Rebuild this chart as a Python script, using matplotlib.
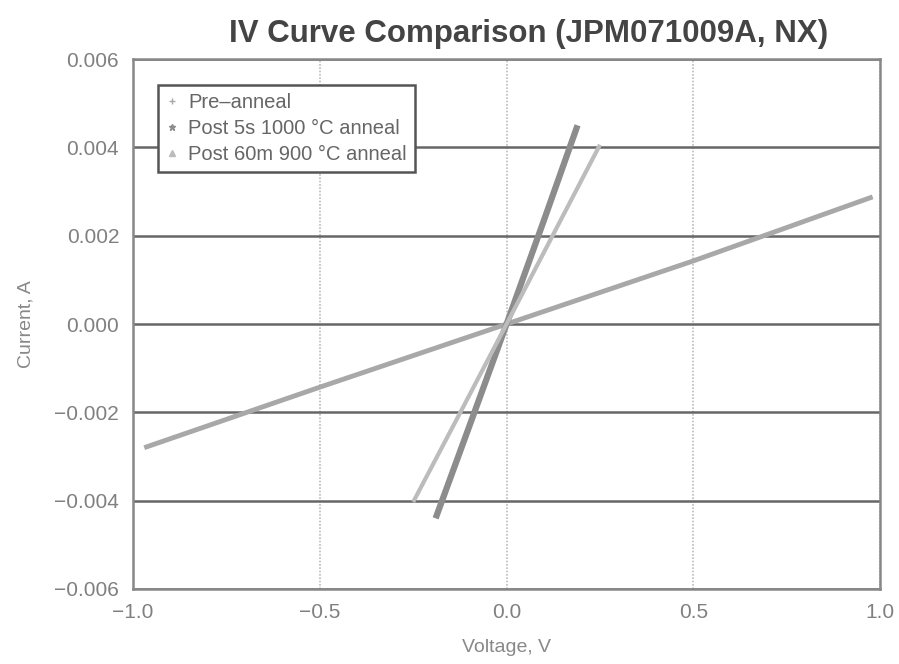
import matplotlib.pyplot as plt
from matplotlib.lines import Line2D

plt.rcParams['font.family'] = ['Liberation Sans', 'DejaVu Sans']

labels = ['Pre\u2013anneal', 'Post 5s 1000 \u00b0C anneal', 'Post 60m 900 \u00b0C anneal']
pre_v = [-0.97, -0.5, 0.0, 0.5, 0.98]
pre_i = [-0.00280, -0.00143, 0.0, 0.00143, 0.00288]
post5s_v = [-0.19, -0.1, 0.0, 0.1, 0.19]
post5s_i = [-0.00440, -0.00232, 0.0, 0.00235, 0.00450]
post60m_v = [-0.25, -0.12, 0.0, 0.12, 0.25]
post60m_i = [-0.00403, -0.00194, 0.0, 0.00195, 0.00406]

colors = ['#a8a8a8', '#8c8c8c', '#bcbcbc']
markers = ['+', '*', '^']
widths = [3.5, 4.5, 3.0]

fig = plt.figure(figsize=(8.99, 6.64), dpi=100)
ax = fig.add_axes([0.148, 0.113, 0.831, 0.798])

series = [(pre_v, pre_i), (post5s_v, post5s_i), (post60m_v, post60m_i)]
for (v, i), c, lw in zip(series, colors, widths):
    ax.plot(v, i, color=c, lw=lw, solid_capstyle='butt', zorder=3)

ax.set_xlim(-1.0, 1.0)
ax.set_ylim(-0.006, 0.006)
ax.set_xticks([-1.0, -0.5, 0.0, 0.5, 1.0])
ax.set_yticks([-0.006, -0.004, -0.002, 0.0, 0.002, 0.004, 0.006])
ax.set_yticklabels(['\u22120.006', '\u22120.004', '\u22120.002', '0.000', '0.002', '0.004', '0.006'])
ax.set_xticklabels(['\u22121.0', '\u22120.5', '0.0', '0.5', '1.0'])
ax.tick_params(length=0, labelsize=15, labelcolor='#808080', pad=10)

ax.yaxis.grid(True, color='#666666', lw=1.8)
ax.xaxis.grid(True, color='#bbbbbb', lw=1.2, ls=(0, (1, 1)))
ax.set_axisbelow(True)
for s in ax.spines.values():
    s.set_color('#888888')
    s.set_linewidth(1.8)

ax.set_title('IV Curve Comparison (JPM071009A, NX)', fontsize=22.5, fontweight='bold',
             color='#444444', pad=12, x=0.53)
ax.set_xlabel('Voltage, V', fontsize=14, color='#888888', labelpad=12)
ax.set_ylabel('Current, A', fontsize=14, color='#888888', labelpad=14)

handles = [Line2D([], [], ls='none', marker=m, color=c, markersize=5)
           for m, c in zip(markers, colors)]
leg = ax.legend(handles, labels, loc='upper left', fontsize=14.5, handlelength=0.6,
                handletextpad=0.5, borderpad=0.4, labelspacing=0.35,
                fancybox=False, framealpha=1, bbox_to_anchor=(0.02, 0.97))
leg.get_frame().set_edgecolor('#555555')
leg.get_frame().set_linewidth(1.8)
for t in leg.get_texts():
    t.set_color('#666666')

fig.savefig('out.png', dpi=100)
